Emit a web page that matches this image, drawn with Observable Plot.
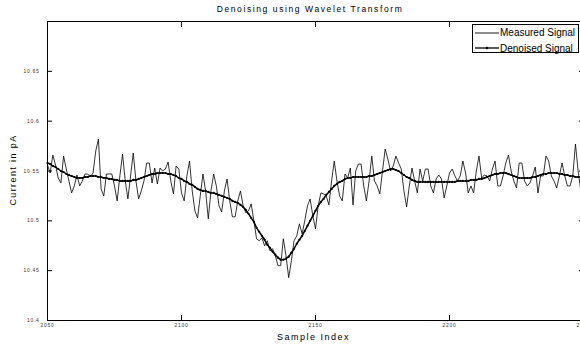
<!DOCTYPE html>
<html><head><meta charset="utf-8">
<script src="https://cdn.jsdelivr.net/npm/d3@7"></script>
<script src="https://cdn.jsdelivr.net/npm/@observablehq/plot@0.6"></script>
<style>
body{margin:0;background:#fff;}
#wrap{position:relative;width:580px;height:347px;overflow:hidden;background:#fff;}
#wrap svg{display:block;}
#legend{position:absolute;left:472px;top:24px;width:105px;height:27px;border:1px solid #000;background:#fff;font:10px "Liberation Sans",Arial,sans-serif;color:#000;}
#legend .row{position:absolute;left:2px;height:12px;display:flex;align-items:center;white-space:nowrap;}
#legend svg{margin-right:1px;}
</style>
</head><body>
<div id="wrap"></div>
<script>
const titleText = "Denoising using Wavelet Transform";
const xLabel = "Sample Index";
const yLabel = "Current in pA";
const seriesNames = ["Measured Signal", "Denoised Signal"];
const startIndex = 2050;
const xTicks = [2050, 2100, 2150, 2200, 2250];
const yTicks = [10.4, 10.45, 10.5, 10.55, 10.6, 10.65];

const measured = [
10.556,10.548,10.566,10.556,10.543,10.538,10.565,10.552,10.540,10.528,
10.535,10.546,10.535,10.540,10.547,10.547,10.544,10.548,10.570,10.582,
10.532,10.525,10.547,10.547,10.547,10.535,10.520,10.545,10.567,10.540,
10.522,10.545,10.568,10.540,10.522,10.530,10.540,10.558,10.558,10.538,
10.553,10.537,10.553,10.550,10.552,10.559,10.540,10.527,10.555,10.552,
10.528,10.520,10.545,10.560,10.530,10.510,10.503,10.525,10.547,10.530,
10.502,10.530,10.547,10.535,10.515,10.509,10.530,10.542,10.520,10.504,
10.504,10.520,10.530,10.515,10.508,10.510,10.517,10.500,10.482,10.480,
10.483,10.475,10.480,10.470,10.472,10.465,10.455,10.455,10.482,10.465,
10.443,10.460,10.480,10.485,10.497,10.487,10.500,10.515,10.522,10.505,
10.492,10.515,10.528,10.527,10.525,10.516,10.540,10.560,10.540,10.525,
10.520,10.547,10.543,10.553,10.516,10.550,10.557,10.557,10.535,10.520,
10.540,10.565,10.540,10.535,10.527,10.550,10.572,10.562,10.550,10.555,
10.565,10.558,10.552,10.530,10.514,10.535,10.553,10.540,10.528,10.552,
10.540,10.552,10.552,10.535,10.528,10.542,10.546,10.542,10.523,10.535,
10.548,10.552,10.545,10.540,10.545,10.560,10.548,10.528,10.535,10.528,
10.550,10.565,10.543,10.546,10.545,10.540,10.552,10.560,10.535,10.535,
10.545,10.558,10.566,10.550,10.540,10.533,10.558,10.558,10.540,10.535,
10.538,10.545,10.554,10.528,10.545,10.545,10.565,10.560,10.545,10.540,
10.533,10.545,10.558,10.545,10.535,10.535,10.545,10.577,10.550,10.530,
10.545
];

const denoised = [
10.558,10.557,10.555,10.554,10.552,10.550,10.549,10.547,10.546,10.545,
10.544,10.543,10.543,10.543,10.544,10.544,10.545,10.545,10.545,10.544,
10.544,10.543,10.543,10.542,10.542,10.541,10.541,10.540,10.540,10.540,
10.540,10.540,10.541,10.541,10.542,10.543,10.544,10.545,10.546,10.547,
10.547,10.548,10.548,10.548,10.548,10.547,10.547,10.546,10.545,10.543,
10.542,10.540,10.539,10.537,10.536,10.534,10.532,10.531,10.530,10.530,
10.529,10.528,10.528,10.527,10.526,10.525,10.524,10.523,10.522,10.520,
10.519,10.518,10.516,10.514,10.511,10.507,10.503,10.499,10.493,10.489,
10.485,10.481,10.476,10.473,10.469,10.466,10.463,10.461,10.461,10.462,
10.464,10.468,10.472,10.477,10.481,10.485,10.490,10.495,10.500,10.505,
10.510,10.515,10.519,10.522,10.526,10.529,10.532,10.535,10.537,10.539,
10.540,10.542,10.543,10.543,10.544,10.544,10.544,10.544,10.544,10.544,
10.545,10.545,10.546,10.547,10.548,10.549,10.550,10.551,10.552,10.552,
10.551,10.550,10.548,10.546,10.544,10.543,10.541,10.540,10.539,10.539,
10.539,10.539,10.539,10.539,10.539,10.539,10.539,10.539,10.539,10.539,
10.539,10.539,10.539,10.540,10.540,10.540,10.540,10.540,10.541,10.541,
10.541,10.542,10.542,10.543,10.544,10.545,10.546,10.547,10.547,10.548,
10.548,10.548,10.547,10.546,10.545,10.544,10.543,10.543,10.543,10.543,
10.543,10.544,10.544,10.545,10.546,10.547,10.547,10.548,10.548,10.548,
10.548,10.547,10.547,10.546,10.546,10.545,10.545,10.544,10.544,10.544,
10.544
];

const rows = measured.map((v, i) => ({index: startIndex + i, measured: v, denoised: denoised[i]}));
const tickFont = "'Liberation Sans', Arial, sans-serif";
const labelFont = "'Liberation Sans Narrow', 'Liberation Sans', Arial, sans-serif";

const chart = Plot.plot({
  width: 580, height: 347,
  marginLeft: 47, marginRight: -3, marginTop: 21, marginBottom: 27,
  x: {domain: [xTicks[0], xTicks[xTicks.length - 1]]},
  y: {domain: [10.4, 10.7]},
  style: {background: "#fff", color: "#000", fontFamily: tickFont, overflow: "visible"},
  marks: [
    Plot.line(rows, {x: "index", y: "measured", stroke: "#000", strokeWidth: 0.8}),
    Plot.line(rows, {x: "index", y: "denoised", stroke: "#000", strokeWidth: 1.5}),
    Plot.dot(rows, {x: "index", y: "denoised", r: 1.1, fill: "#000", stroke: null}),
    Plot.frame({stroke: "#000", strokeWidth: 1}),
    Plot.axisX({ticks: xTicks, tickSize: 0, tickPadding: 3, tickFormat: d => String(d), fontSize: 5, fill: "#333", label: null}),
    Plot.axisX({ticks: xTicks, tickSize: -5, fill: "none", label: null, stroke: "#000"}),
    Plot.axisX({anchor: "top", ticks: xTicks, tickSize: -5, fill: "none", label: null, stroke: "#000"}),
    Plot.axisY({ticks: yTicks, tickSize: 0, tickPadding: 8, tickFormat: d => String(d), fontSize: 5, fill: "#333", label: null}),
    Plot.axisY({ticks: yTicks, tickSize: -5, fill: "none", label: null, stroke: "#000"}),
    Plot.axisY({anchor: "right", ticks: yTicks, tickSize: -5, fill: "none", label: null, stroke: "#000"}),
    Plot.text([titleText], {frameAnchor: "top", dy: -13, dx: -5, fontSize: 8.5, fontFamily: labelFont, fill: "#000"}),
    Plot.text([xLabel], {frameAnchor: "bottom", dy: 18, dx: -2, fontSize: 9, fontFamily: labelFont, fill: "#000"}),
    Plot.text([yLabel], {frameAnchor: "left", dx: -34, rotate: -90, fontSize: 9, fontFamily: labelFont, fill: "#000"})
  ]
});
const wrap = document.getElementById("wrap");
wrap.appendChild(chart);

// spaced-out lettering as in the reference, then re-centre the three titles
const targets = new Map([[titleText, [310, 8.5, 1.6]], [xLabel, [313.5, 337, 1.5]], [yLabel, [13, 170, 1.4]]]);
chart.querySelectorAll("text").forEach(t => {
  const s = t.textContent;
  if (targets.has(s)) {
    const [cx, cy, ls] = targets.get(s);
    t.setAttribute("letter-spacing", ls);
    const r = t.getBoundingClientRect();
    const w = wrap.getBoundingClientRect();
    const ddx = cx - (r.left - w.left + r.width / 2);
    const ddy = cy - (r.top - w.top + r.height / 2);
    t.setAttribute("transform", `translate(${ddx.toFixed(1)},${ddy.toFixed(1)}) ` + (t.getAttribute("transform") || ""));
  } else if (/^[0-9.]+$/.test(s)) {
    t.setAttribute("letter-spacing", "0.7");
  }
});

const legend = document.createElement("div");
legend.id = "legend";
seriesNames.forEach((name, i) => {
  const row = document.createElement("div");
  row.className = "row";
  row.style.top = (i === 0 ? 1.5 : 17) + "px";
  const marker = i === 1 ? '<circle cx="12" cy="4" r="1.3" fill="#000"/>' : "";
  row.innerHTML = `<svg width="24" height="8"><line x1="0" y1="4" x2="24" y2="4" stroke="#000" stroke-width="${i === 1 ? 1.3 : 0.9}"/>${marker}</svg><span></span>`;
  row.querySelector("span").textContent = name;
  legend.appendChild(row);
});
wrap.appendChild(legend);
</script>
</body></html>
